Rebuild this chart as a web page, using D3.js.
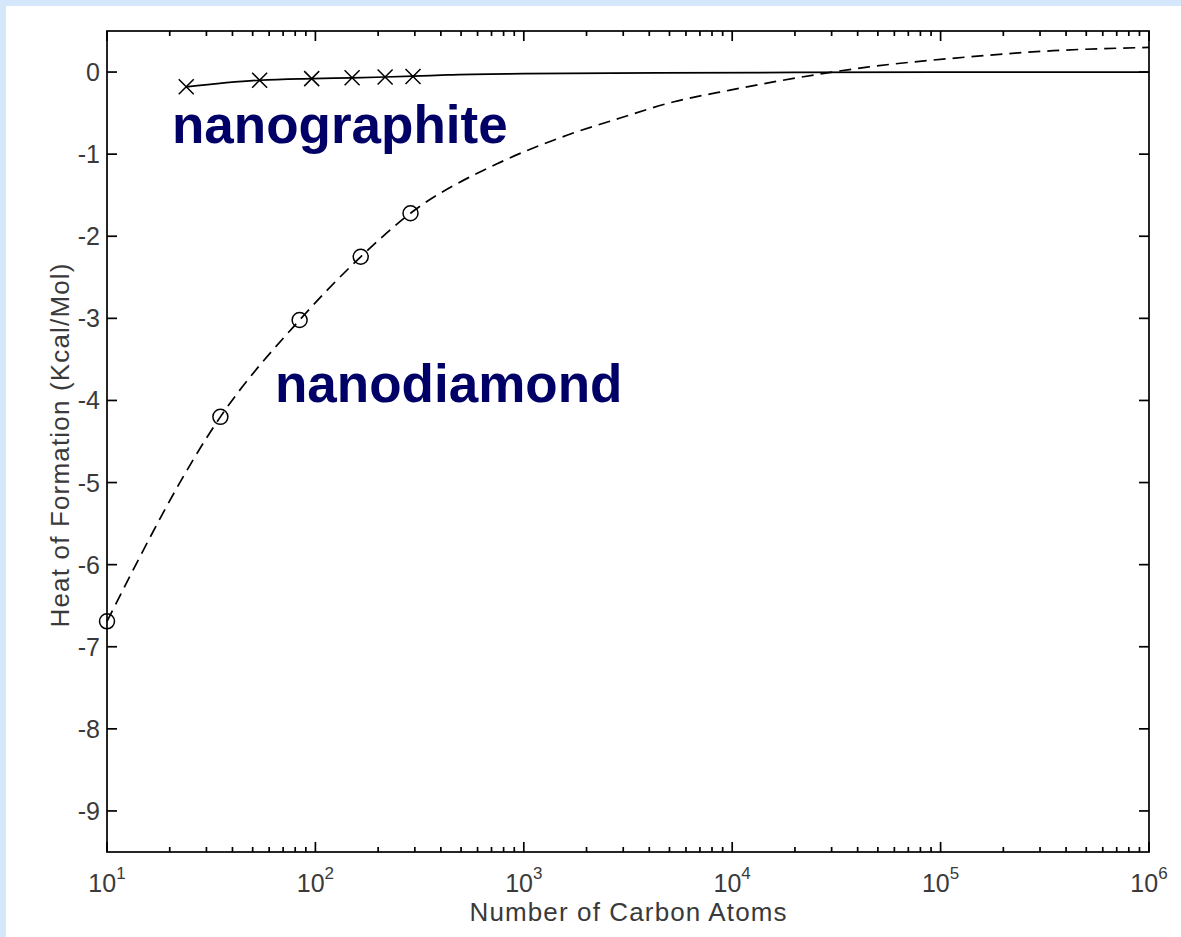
<!DOCTYPE html>
<html>
<head>
<meta charset="utf-8">
<script src="https://cdnjs.cloudflare.com/ajax/libs/d3/7.8.5/d3.min.js"></script>
<style>
  body { margin: 0; background: #fff; }
  text { font-family: "Liberation Sans", Arial, sans-serif; }
</style>
</head>
<body>
<svg id="chart" width="1181" height="937"></svg>
<script>
// nanographite (hexagonal flakes) and nanodiamond clusters
const graphiteN = [24, 54, 96, 150, 216, 294]
const graphiteE = [-0.18, -0.10, -0.08, -0.07, -0.06, -0.055]
const graphiteCurveN = [24, 54, 96, 150, 216, 294, 430, 1000, 4400, 20000, 100000, 1000000]
const graphiteCurveE = [-0.18, -0.10, -0.08, -0.07, -0.06, -0.05, -0.035, -0.02, -0.01, -0.005, -0.002, 0]

const diamondN = [10, 35, 84, 165, 286]
const diamondE = [-6.69, -4.20, -3.02, -2.25, -1.72]
const diamondCurveN = [10, 35, 84, 165, 286, 770, 1611, 2900, 5200, 9770, 17500, 44400, 117000, 347000, 1000000]
const diamondCurveE = [-6.69, -4.20, -3.02, -2.25, -1.72, -1.1, -0.77, -0.56, -0.365, -0.22, -0.10, 0.06, 0.17, 0.26, 0.30]

const xDecades = [1, 2, 3, 4, 5, 6]
const yTicks = [0, -1, -2, -3, -4, -5, -6, -7, -8, -9]

const svg = d3.select('#chart')

svg.append('rect').attr('width', 1181).attr('height', 937).attr('fill', '#fff')
svg.append('rect').attr('width', 1181).attr('height', 6).attr('fill', '#d5e7fb')
svg.append('rect').attr('width', 6).attr('height', 937).attr('fill', '#d5e7fb')

const pLeft = 107, pRight = 1149, pTop = 31, pBottom = 852

const x = d3.scaleLog().domain([10, 1e6]).range([pLeft, pRight])
const y = d3.scaleLinear().domain([-9.5, 0.5]).range([pBottom, pTop])

const axes = svg.append('g').attr('stroke', '#000').attr('stroke-width', 1.7)

// minor + major ticks on bottom and top
var minor = []
xDecades.slice(0, -1).forEach(d => {
    for (var m = 2; m <= 9; m++) minor.push(m * Math.pow(10, d))
})
var major = xDecades.map(d => Math.pow(10, d))

function xTicks(cls, data, y0, len) {
    axes.selectAll('line.' + cls)
        .data(data)
        .enter()
        .append('line')
        .attr('class', cls)
        .attr('x1', d => x(d)).attr('x2', d => x(d))
        .attr('y1', y0).attr('y2', y0 + len)
}
xTicks('xminor', minor, pBottom, -5)
xTicks('xminortop', minor, pTop, 5)
xTicks('xmajor', major, pBottom, -10)
xTicks('xmajortop', major, pTop, 10)

axes.selectAll('line.yl')
    .data(yTicks)
    .enter()
    .append('line')
    .attr('class', 'yl')
    .attr('x1', pLeft).attr('x2', pLeft + 10)
    .attr('y1', d => y(d)).attr('y2', d => y(d))
axes.selectAll('line.yr')
    .data(yTicks)
    .enter()
    .append('line')
    .attr('class', 'yr')
    .attr('x1', pRight).attr('x2', pRight - 10)
    .attr('y1', d => y(d)).attr('y2', d => y(d))

axes.append('rect')
    .attr('x', pLeft).attr('y', pTop)
    .attr('width', pRight - pLeft).attr('height', pBottom - pTop)
    .attr('fill', 'none')

// tick labels
const xl = svg.selectAll('text.xlab')
    .data(xDecades)
    .enter()
    .append('text')
    .attr('class', 'xlab')
    .attr('x', d => x(Math.pow(10, d)))
    .attr('y', 892)
    .attr('text-anchor', 'middle')
    .attr('fill', '#3a3a3a')
    .style('font-size', '25px')
xl.append('tspan').text('10')
xl.append('tspan')
    .attr('dy', -13)
    .style('font-size', '17px')
    .text(d => d)

svg.selectAll('text.ylab')
    .data(yTicks)
    .enter()
    .append('text')
    .attr('class', 'ylab')
    .attr('x', 100)
    .attr('y', d => y(d) + 9)
    .attr('text-anchor', 'end')
    .attr('fill', '#3a3a3a')
    .style('font-size', '25px')
    .text(d => d)

svg.append('text')
    .attr('x', (pLeft + pRight) / 2)
    .attr('y', 921)
    .attr('text-anchor', 'middle')
    .attr('fill', '#3a3a3a')
    .style('font-size', '26px')
    .attr('textLength', 317)
    .text('Number of Carbon Atoms')

svg.append('text')
    .attr('transform', 'translate(69,' + ((pTop + pBottom) / 2 + 4) + ') rotate(-90)')
    .attr('text-anchor', 'middle')
    .attr('fill', '#3a3a3a')
    .style('font-size', '26px')
    .attr('textLength', 364)
    .text('Heat of Formation (Kcal/Mol)')

// curves
const line = d3.line()
    .x(d => x(d[0]))
    .y(d => y(d[1]))
    .curve(d3.curveMonotoneX)

svg.append('path')
    .datum(graphiteCurveN.map((n, i) => [n, graphiteCurveE[i]]))
    .attr('d', line)
    .attr('fill', 'none')
    .attr('stroke', '#000')
    .attr('stroke-width', 1.7)

svg.append('path')
    .datum(diamondCurveN.map((n, i) => [n, diamondCurveE[i]]))
    .attr('d', line)
    .attr('fill', 'none')
    .attr('stroke', '#000')
    .attr('stroke-width', 1.7)
    .attr('stroke-dasharray', '12,7')

// markers
var s = 7.5
svg.selectAll('path.xmark')
    .data(graphiteN.map((n, i) => [n, graphiteE[i]]))
    .enter()
    .append('path')
    .attr('class', 'xmark')
    .attr('d', d => {
        var cx = x(d[0]), cy = y(d[1])
        return 'M' + (cx - s) + ',' + (cy - s) + 'L' + (cx + s) + ',' + (cy + s) +
            'M' + (cx - s) + ',' + (cy + s) + 'L' + (cx + s) + ',' + (cy - s)
    })
    .attr('stroke', '#000')
    .attr('stroke-width', 1.5)

svg.selectAll('circle.omark')
    .data(diamondN.map((n, i) => [n, diamondE[i]]))
    .enter()
    .append('circle')
    .attr('class', 'omark')
    .attr('cx', d => x(d[0]))
    .attr('cy', d => y(d[1]))
    .attr('r', 7.5)
    .attr('fill', 'none')
    .attr('stroke', '#000')
    .attr('stroke-width', 1.5)

// series labels
svg.append('text')
    .attr('x', 172)
    .attr('y', 143)
    .attr('fill', '#000066')
    .style('font-size', '53px')
    .style('font-weight', 'bold')
    .text('nanographite')

svg.append('text')
    .attr('x', 275)
    .attr('y', 402)
    .attr('fill', '#000066')
    .style('font-size', '53px')
    .style('font-weight', 'bold')
    .text('nanodiamond')
</script>
</body>
</html>
